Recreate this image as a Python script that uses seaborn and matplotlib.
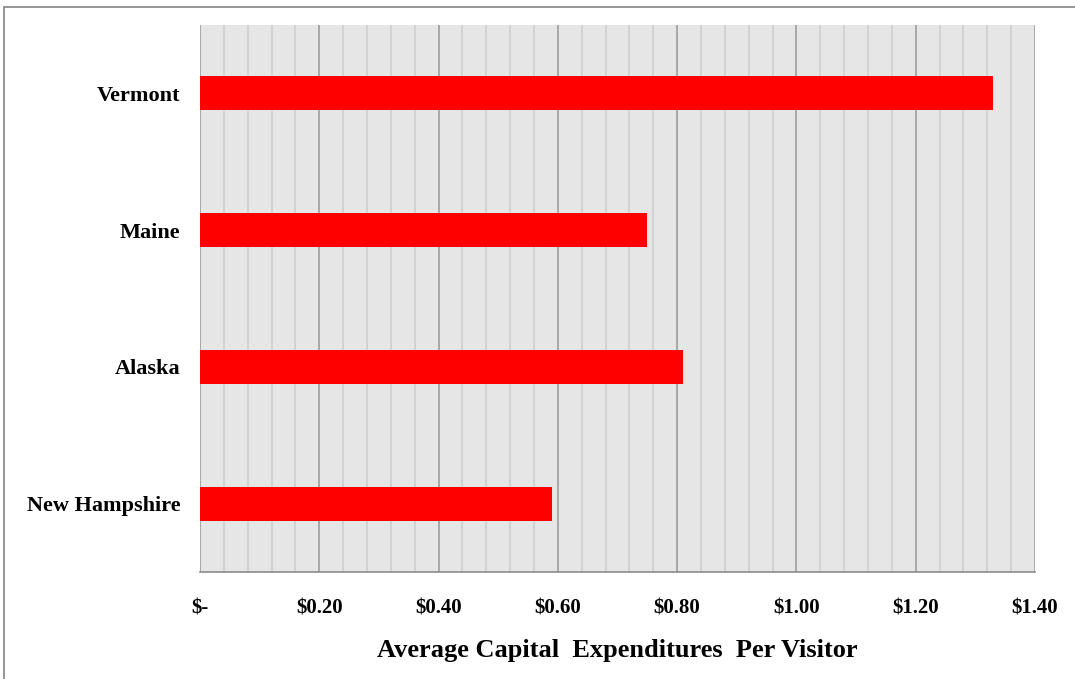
import matplotlib
matplotlib.use("Agg")
import matplotlib.pyplot as plt
from matplotlib.ticker import FuncFormatter, MultipleLocator
from matplotlib.patches import Rectangle
import seaborn as sns
import pandas as pd

states = ["Vermont", "Maine", "Alaska", "New Hampshire"]
capex_per_visitor = [1.33, 0.75, 0.81, 0.59]

df = pd.DataFrame({"state": states, "value": capex_per_visitor})

sns.set_style("white")
plt.rcParams["font.family"] = ["Liberation Serif", "DejaVu Serif"]
plt.rcParams["text.color"] = "black"
plt.rcParams["xtick.color"] = "black"
plt.rcParams["ytick.color"] = "black"
plt.rcParams["axes.labelcolor"] = "black"

fig = plt.figure(figsize=(10.75, 6.79), dpi=100)
ax = fig.add_axes([200 / 1075, 1 - 572 / 679, (1035 - 200) / 1075, (572 - 25) / 679])

# chart frame
fig.patches.append(Rectangle((4 / 1075, -0.1), 1.2, 1.1 - 7 / 679,
                             transform=fig.transFigure, fill=False,
                             edgecolor="#8c8c8c", linewidth=1.3, zorder=0))

ax.set_facecolor("#e6e6e6")
sns.barplot(data=df, x="value", y="state", orient="h", color="#ff0000",
            width=0.25, saturation=1, linewidth=0, ax=ax, zorder=3)

ax.set_xlim(0, 1.4)
ax.set_ylim(3.5, -0.5)
ax.xaxis.set_major_locator(MultipleLocator(0.2))
ax.xaxis.set_minor_locator(MultipleLocator(0.04))
ax.grid(which="major", axis="x", color="#a8a8a8", linewidth=1.4, zorder=1)
ax.grid(which="minor", axis="x", color="#cccccc", linewidth=1.1, zorder=1)
ax.set_axisbelow(True)

def money(v, pos):
    if abs(v) < 1e-9:
        return "$-"
    return f"${v:.2f}"

ax.xaxis.set_major_formatter(FuncFormatter(money))
for s in ["top", "right", "left"]:
    ax.spines[s].set_visible(False)
ax.spines["bottom"].set_color("#8c8c8c")
ax.spines["bottom"].set_linewidth(1.2)
ax.tick_params(axis="x", which="major", direction="out", length=7, width=1.2,
               color="#a0a0a0", labelcolor="black", pad=12, labelsize=15)
ax.tick_params(axis="x", which="minor", length=0)
ax.tick_params(axis="y", length=0, pad=14, labelsize=16, labelcolor="black")
for lab in ax.get_xticklabels() + ax.get_yticklabels():
    lab.set_fontweight("bold")

ax.set_ylabel("")
ax.set_xlabel("Average Capital  Expenditures  Per Visitor", fontsize=19,
              fontweight="bold", labelpad=15, color="black")

fig.savefig("out.png", dpi=100)
